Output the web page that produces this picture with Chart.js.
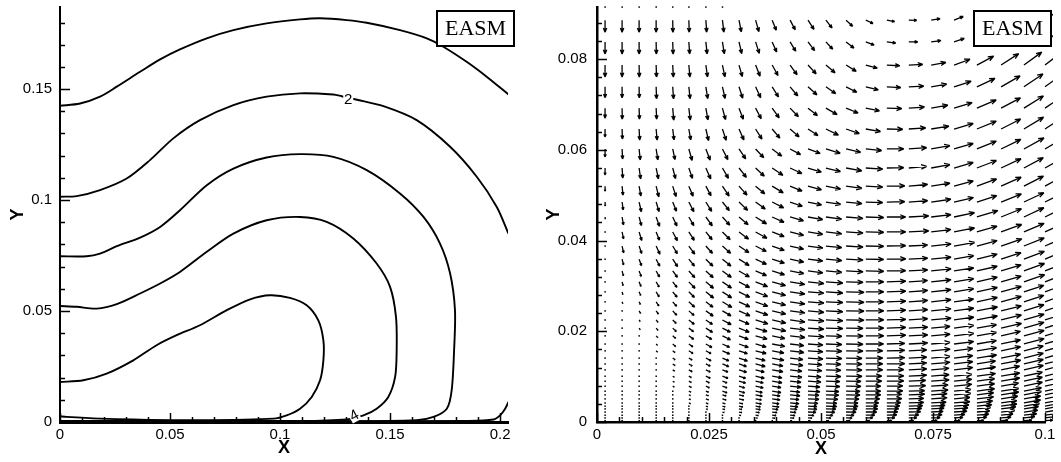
<!DOCTYPE html>
<html>
<head>
<meta charset="utf-8">
<script src="https://cdn.jsdelivr.net/npm/chart.js@4.4.1/dist/chart.umd.min.js"></script>
<style>
  html, body { margin: 0; padding: 0; background: #fff; }
  #wrap { position: relative; width: 1061px; height: 462px; overflow: hidden; }
  #leftChart { position: absolute; left: 0; top: 0; }
  #rightChart { position: absolute; left: 530px; top: 0; }
</style>
</head>
<body>
<div id="wrap">
  <canvas id="leftChart" width="530" height="462"></canvas>
  <canvas id="rightChart" width="531" height="462"></canvas>
</div>
<script>
// ─── DATA ───

// left panel: tick labels
const leftXTicks = [0, 0.05, 0.1, 0.15, 0.2];
const leftYTicks = [0, 0.05, 0.1, 0.15];

// left panel: contour lines (outermost to innermost)
const contour1X = [0, 0.0091, 0.0182, 0.0258, 0.0364, 0.0455, 0.0545, 0.0667, 0.0788, 0.0939, 0.1091, 0.1182, 0.1303, 0.1394, 0.1545, 0.1667, 0.1742, 0.1848, 0.1939, 0.2038];
const contour1Y = [0.1425, 0.1435, 0.1466, 0.1511, 0.1578, 0.1634, 0.1679, 0.1729, 0.1766, 0.1796, 0.1814, 0.1819, 0.1811, 0.1799, 0.1766, 0.1729, 0.1691, 0.1623, 0.1556, 0.1476];

const contour2X = [0, 0.0076, 0.0182, 0.0303, 0.0409, 0.0515, 0.0636, 0.0788, 0.0939, 0.1091, 0.1242, 0.128, 0.1345, 0.147, 0.1621, 0.1773, 0.1894, 0.1985, 0.2038];
const contour2Y = [0.1015, 0.1018, 0.1045, 0.1097, 0.118, 0.1278, 0.136, 0.1428, 0.1466, 0.1481, 0.1476, 0.1468, 0.1453, 0.1423, 0.136, 0.124, 0.1105, 0.0969, 0.0849];
// level 2 again, along the bottom wall
const contour2bX = [0, 0.1, 0.1848, 0.197, 0.2, 0.2023, 0.2038];
const contour2bY = [0.0003, 0.0003, 0.0005, 0.0011, 0.003, 0.006, 0.009];

const contour3X = [0, 0.0121, 0.0182, 0.0258, 0.0364, 0.0455, 0.0545, 0.0667, 0.0788, 0.0939, 0.1091, 0.1242, 0.1394, 0.1545, 0.1652, 0.1727, 0.1773, 0.1795, 0.1791, 0.178, 0.1758, 0.1697, 0.1621, 0.1242, 0];
const contour3Y = [0.0747, 0.0747, 0.0759, 0.0792, 0.0831, 0.0879, 0.0954, 0.1067, 0.1142, 0.1192, 0.1207, 0.1195, 0.1135, 0.103, 0.0924, 0.0804, 0.0669, 0.0504, 0.0323, 0.0143, 0.006, 0.0023, 0.0008, 0.0003, 0.0003];

const contour4X = [0, 0.0076, 0.0167, 0.0258, 0.0364, 0.0455, 0.0545, 0.0667, 0.0788, 0.0939, 0.1091, 0.1212, 0.1333, 0.1439, 0.15, 0.1527, 0.153, 0.1523, 0.1492, 0.1439, 0.1379, 0.1303, 0.1091, 0];
const contour4Y = [0.0523, 0.0519, 0.0511, 0.0531, 0.0579, 0.0624, 0.0676, 0.0767, 0.0849, 0.0909, 0.0924, 0.0902, 0.0827, 0.0714, 0.0609, 0.0473, 0.0323, 0.0203, 0.0113, 0.006, 0.003, 0.0012, 0.0005, 0.0005];

const contour5X = [0, 0.0106, 0.0212, 0.0333, 0.0439, 0.053, 0.0636, 0.0758, 0.0864, 0.0955, 0.1045, 0.1121, 0.1174, 0.1197, 0.1197, 0.1182, 0.1144, 0.1091, 0.103, 0.097, 0.0636, 0.0333, 0.0182, 0.003, 0];
const contour5Y = [0.018, 0.0188, 0.0218, 0.0278, 0.0346, 0.0391, 0.0436, 0.0504, 0.0553, 0.0571, 0.0559, 0.0526, 0.0458, 0.0368, 0.0278, 0.0188, 0.0113, 0.006, 0.003, 0.0015, 0.0008, 0.0011, 0.0015, 0.0023, 0.0026];

// contour level labels
const contourLabelText = ['2', '4'];
const contourLabelX = [0.131, 0.1336];
const contourLabelY = [0.1458, 0.0032];

// right panel: tick labels
const rightXTicks = [0, 0.025, 0.05, 0.075, 0.1];
const rightYTicks = [0, 0.02, 0.04, 0.06, 0.08];

// right panel: vector grid
const vecX = [0.0018, 0.0056, 0.0094, 0.0132, 0.0169, 0.0205, 0.0243, 0.0280, 0.0317, 0.0354, 0.0391, 0.0431, 0.0471, 0.0511, 0.0556, 0.0600, 0.0647, 0.0696, 0.0746, 0.0797, 0.0848, 0.0902, 0.0953, 0.1000];
const vecY = [0.0915, 0.0886, 0.0838, 0.0787, 0.0739, 0.0692, 0.0646, 0.0602, 0.0560, 0.0520, 0.0485, 0.0452, 0.0419, 0.0388, 0.0359, 0.0333, 0.0309, 0.0287, 0.0265, 0.0245, 0.0225, 0.0207, 0.0190, 0.0172, 0.0157, 0.0141, 0.0128, 0.0115, 0.0101, 0.0090, 0.0079, 0.0068, 0.0060, 0.0051, 0.0042, 0.0035, 0.0029, 0.0022, 0.0015, 0.0009, 0.0003];

// direction of each vector, degrees (0 = +x, 90 = +y), one row per vecY
const vecAngle = [
  [-90,-90,-90,-90,-90,-90,-90,-90,-90,-90,-90,-90,-90,-90,-90,-90,-90,-90,-90,-90,-90,-90,-90,-90],
  [-90,-90,-90,-90,-89,-88,-86,-83,-79,-74,-68,-62,-57,-52,-43,-25,-10,-2,10,22,27,31,34,36],
  [-90,-90,-90,-89,-88,-86,-84,-81,-77,-72,-66,-59,-53,-47,-38,-21,-7,0,8,19,27,31,34,37],
  [-90,-90,-89,-88,-87,-85,-82,-78,-74,-68,-61,-54,-47,-40,-32,-15,-3,3,10,20,28,33,36,38],
  [-90,-90,-89,-88,-86,-84,-81,-77,-72,-65,-58,-50,-42,-35,-27,-14,-3,3,10,18,25,30,34,36],
  [-90,-89,-88,-87,-85,-83,-80,-75,-69,-62,-54,-46,-38,-30,-22,-11,-2,4,10,17,23,28,32,34],
  [-90,-88,-87,-85,-83,-80,-77,-72,-66,-58,-50,-41,-33,-26,-19,-10,-1,4,9,16,22,27,31,33],
  [-90,-87,-84,-81,-78,-74,-69,-63,-56,-47,-37,-28,-20,-17,-13,-6,0,4,10,16,22,26,29,31],
  [-90,-86,-82,-78,-75,-71,-66,-60,-52,-43,-34,-25,-17,-14,-10,-4,1,5,10,16,21,25,28,30],
  [-90,-84,-80,-76,-72,-67,-62,-56,-48,-40,-31,-22,-15,-11,-8,-3,1,5,9,15,20,24,27,29],
  [-88,-82,-77,-73,-68,-63,-58,-51,-44,-36,-27,-19,-12,-9,-6,-2,1,4,8,13,18,22,25,27],
  [-85,-80,-75,-70,-65,-60,-54,-48,-40,-32,-24,-16,-10,-8,-5,-2,0,3,7,12,17,22,25,26],
  [-85,-78,-73,-68,-62,-57,-51,-45,-37,-29,-21,-14,-9,-7,-4,-1,0,3,7,11,16,20,23,25],
  [-80,-77,-71,-65,-59,-54,-48,-42,-34,-27,-20,-13,-8,-6,-4,-1,1,3,6,10,15,19,22,24],
  [-80,-76,-70,-63,-57,-51,-45,-39,-32,-25,-18,-12,-7,-5,-3,-1,1,3,6,10,14,18,21,23],
  [-78,-75,-69,-61,-54,-48,-42,-36,-30,-23,-17,-11,-7,-5,-3,-1,1,3,6,9,13,17,20,22],
  [-75,-75,-68,-60,-52,-46,-40,-34,-28,-22,-16,-10,-6,-4,-2,0,2,4,6,9,13,16,19,21],
  [-75,-75,-67,-59,-51,-45,-39,-33,-27,-21,-15,-9,-5,-4,-2,0,2,4,6,9,12,15,18,20],
  [-70,-70,-65,-57,-49,-43,-37,-31,-25,-20,-14,-9,-5,-3,-2,0,2,4,6,8,12,15,18,20],
  [-70,-65,-60,-55,-47,-41,-35,-30,-24,-19,-13,-8,-5,-3,-1,0,2,4,6,8,11,14,17,19],
  [-70,-65,-58,-52,-45,-39,-34,-28,-23,-18,-13,-8,-4,-3,-1,0,2,4,5,8,11,14,16,18],
  [-65,-60,-55,-50,-43,-37,-32,-27,-22,-17,-12,-7,-4,-2,-1,0,2,3,5,8,10,13,16,18],
  [-60,-58,-52,-47,-41,-36,-31,-26,-21,-16,-12,-7,-4,-2,-1,0,2,3,5,7,10,13,15,17],
  [-60,-55,-50,-45,-40,-35,-30,-25,-20,-16,-11,-7,-4,-2,-1,0,2,3,5,7,10,12,15,17],
  [-55,-50,-48,-43,-38,-33,-29,-24,-19,-15,-11,-7,-4,-2,-1,0,1,3,5,7,9,12,14,16],
  [-50,-48,-45,-41,-36,-32,-28,-23,-19,-15,-11,-7,-4,-2,-1,0,1,3,5,7,9,11,14,16],
  [-45,-45,-43,-40,-35,-31,-27,-23,-19,-15,-11,-7,-4,-2,-1,0,1,3,5,7,9,11,13,15],
  [-45,-42,-40,-38,-34,-30,-26,-22,-18,-14,-10,-7,-4,-2,-1,0,1,3,5,7,9,11,13,15],
  [-40,-40,-38,-36,-33,-29,-25,-21,-18,-14,-10,-6,-4,-2,-1,0,1,3,5,6,8,10,12,14],
  [-40,-38,-36,-34,-32,-28,-25,-21,-17,-13,-10,-6,-4,-2,-1,0,1,3,4,6,8,10,12,14],
  [-35,-35,-34,-33,-31,-28,-24,-20,-17,-13,-9,-6,-4,-2,-1,0,1,2,4,6,8,10,12,13],
  [-35,-34,-33,-32,-30,-27,-24,-20,-16,-12,-9,-6,-3,-2,-1,0,1,2,4,6,8,9,11,13],
  [-30,-30,-30,-30,-29,-26,-23,-19,-16,-12,-9,-6,-3,-2,-1,0,1,2,4,5,7,9,11,12],
  [-30,-30,-29,-28,-27,-25,-22,-19,-15,-12,-8,-5,-3,-2,-1,0,1,2,4,5,7,9,10,12],
  [-25,-25,-25,-25,-25,-24,-21,-18,-15,-11,-8,-5,-3,-2,-1,0,1,2,3,5,7,8,10,11],
  [-25,-25,-24,-24,-24,-23,-20,-17,-14,-11,-8,-5,-3,-2,-1,0,1,2,3,5,6,8,10,11],
  [-20,-20,-20,-20,-20,-20,-19,-16,-13,-10,-7,-5,-3,-2,-1,0,1,2,3,4,6,7,9,10],
  [-20,-20,-20,-20,-20,-19,-18,-15,-12,-10,-7,-5,-3,-2,-1,0,1,2,3,4,5,7,8,9],
  [-15,-15,-15,-15,-15,-15,-15,-13,-11,-9,-6,-4,-3,-2,-1,0,1,2,3,4,5,6,7,8],
  [-10,-10,-10,-10,-10,-10,-10,-10,-9,-8,-6,-4,-3,-2,-1,0,1,1,2,3,4,5,6,7],
  [-5,-5,-5,-5,-5,-5,-5,-5,-5,-5,-4,-3,-2,-1,0,0,0,1,1,2,2,3,3,4]
];

// magnitude of each vector (relative), one row per vecY
const vecSpeed = [
  [1,1,1,1,1,1,1,1,0,0,0,0,0,0,0,0,0,0,0,0,0,0,0,0],
  [12,12,12,12,12,12,12,12,12,12,11,11,11,10,9,8,8,8,9,10,12,14,16,18],
  [12,12,12,12,12,12,12,12,12,12,11,11,11,10,10,9,9,9,10,11,14,16,18,20],
  [12,12,12,12,12,12,12,12,12,12,12,12,12,12,12,12,13,14,15,17,19,21,22,23],
  [11,11,11,12,12,12,12,12,12,12,12,12,12,12,12,13,14,15,16,18,20,22,23,24],
  [10,11,11,11,12,12,12,12,12,12,12,12,12,13,13,14,15,16,17,19,21,22,23,24],
  [8,10,11,11,11,11,12,12,12,12,12,12,12,14,14,15,16,17,18,20,21,22,23,24],
  [8,10,11,11,11,12,12,12,12,12,12,12,13,15,15,16,17,18,19,20,21,22,23,23],
  [7,10,11,11,11,11,12,12,12,12,13,13,14,15,16,17,17,18,19,20,21,22,22,23],
  [5,9,10,11,11,11,11,12,12,12,13,13,14,15,16,17,18,19,19,20,21,22,22,23],
  [4,8,10,10,10,11,11,11,12,12,13,13,14,15,16,17,18,19,20,20,21,22,22,23],
  [2,8,9,10,10,10,11,11,12,13,13,14,15,16,17,18,19,20,20,21,22,22,22,23],
  [1.5,7,9,9,10,10,10,11,12,13,13,14,15,16,17,18,19,20,20,21,21,22,22,22],
  [1,7,8,9,9,10,10,11,12,12,13,14,15,16,17,18,19,19,20,21,21,22,22,22],
  [1,6,7,8,9,9,10,11,12,12,13,14,15,16,17,18,19,19,20,20,21,21,22,22],
  [1,5,6,7,8,9,10,11,12,12,13,14,15,16,17,18,19,19,20,20,21,21,22,22],
  [1,4,5,6,7,9,10,11,12,13,14,15,16,17,17,18,19,19,20,20,21,21,22,22],
  [1,3,4,6,7,8,10,11,12,13,14,15,16,17,18,18,19,19,20,20,21,21,21,22],
  [1,2,3,5,6,8,9,11,12,13,14,15,16,17,18,18,19,19,20,20,21,21,21,22],
  [1,1.5,3,4,6,7,9,10,12,13,14,15,16,17,18,18,19,19,20,20,21,21,21,22],
  [1,1.5,2,3,5,7,8,10,11,13,14,15,16,17,18,18,19,19,20,20,21,21,21,21],
  [1,1,2,3,5,6,8,9,11,12,14,15,16,17,17,18,19,19,19,20,20,21,21,21],
  [1,1,1.5,2.5,4,6,7,9,10,12,13,15,16,16,17,18,19,19,19,20,20,20,21,21],
  [1,1,1.5,2,4,5,7,8,10,11,13,14,15,16,17,18,18,19,19,20,20,20,21,21],
  [1,1,1,2,3,5,6,8,9,11,12,14,15,16,17,17,18,18,19,19,20,20,20,21],
  [1,1,1,1.5,3,4,6,7,9,10,12,13,15,16,16,17,18,18,19,19,20,20,20,20],
  [1,1,1,1.5,3,4,5,7,8,10,11,13,14,15,16,17,18,18,19,19,19,20,20,20],
  [1,1,1,1.5,2.5,4,5,6,8,9,11,12,14,15,16,17,17,18,18,19,19,19,20,20],
  [1,1,1,1,2,3,5,6,7,9,10,12,13,15,16,16,17,18,18,18,19,19,19,20],
  [1,1,1,1,2,3,4,5,7,8,10,11,13,14,15,16,17,17,18,18,18,19,19,19],
  [1,1,1,1,2,3,4,5,6,8,9,11,12,14,15,15,16,17,17,18,18,18,19,19],
  [1,1,1,1,1.5,2.5,3,5,6,7,9,10,12,13,14,15,16,16,17,17,18,18,18,19],
  [1,1,1,1,1.5,2,3,4,5,7,8,10,11,13,14,15,15,16,16,17,17,18,18,18],
  [1,1,1,1,1.5,2,3,4,5,6,8,9,11,12,13,14,15,15,16,16,17,17,17,18],
  [1,1,1,1,1,2,2.5,3,4,6,7,9,10,11,12,13,14,15,15,16,16,16,17,17],
  [1,1,1,1,1,1.5,2,3,4,5,7,8,9,11,12,12,13,14,14,15,15,16,16,16],
  [1,1,1,1,1,1.5,2,2.5,3,5,6,7,9,10,11,12,12,13,13,14,14,15,15,15],
  [1,1,1,1,1,1,1.5,2,3,4,5,6,8,9,10,11,11,12,12,13,13,14,14,14],
  [1,1,1,1,1,1,1,1.5,2,3,4,5,6,7,8,9,10,10,11,11,12,12,13,13],
  [1,1,1,1,1,1,1,1,1.5,2,3,4,4,5,6,7,8,8,9,9,10,10,11,11],
  [1,1,1,1,1,1,1,1,1,1,1.5,2,2.5,3,4,4,5,5,6,6,7,7,8,8]
];

// ─── STYLE ───

const SANS = "'Liberation Sans', Arial, Helvetica, sans-serif";
const SERIF = "'Liberation Serif', 'Times New Roman', serif";
const tickFont = { family: SANS, size: 15 };
const titleFont = { family: SANS, size: 18, weight: 'bold' };
const fmt = v => String(parseFloat(Number(v).toFixed(4)));

// ticks drawn inward from the axes, like the original plot
function inwardTicks(minorX, minorY) {
    return {
        id: 'inwardTicks',
        afterDraw(chart) {
            const { ctx, chartArea: a, scales: { x, y } } = chart;
            const isMajor = (scale, v) => scale.ticks.some(t => Math.abs(t.value - v) < 1e-7);
            ctx.save();
            ctx.strokeStyle = '#000';
            ctx.lineWidth = 1.5;
            const nx = Math.floor(x.max / minorX + 1e-6);
            for (let i = 0; i <= nx; i++) {
                const v = i * minorX;
                const px = Math.round(x.getPixelForValue(v)) + 0.5;
                ctx.beginPath();
                ctx.moveTo(px, a.bottom);
                ctx.lineTo(px, a.bottom - (isMajor(x, v) ? 9 : 5));
                ctx.stroke();
            }
            const ny = Math.floor(y.max / minorY + 1e-6);
            for (let i = 0; i <= ny; i++) {
                const v = i * minorY;
                const py = Math.round(y.getPixelForValue(v)) + 0.5;
                ctx.beginPath();
                ctx.moveTo(a.left, py);
                ctx.lineTo(a.left + (isMajor(y, v) ? 10 : 5), py);
                ctx.stroke();
            }
            ctx.restore();
        }
    };
}

// "EASM" box in the upper right corner
const easmBox = {
    id: 'easmBox',
    afterDraw(chart) {
        const { ctx, chartArea: a } = chart;
        const w = 77, h = 35;
        const bx = a.right + 6 - w, by = 11;
        ctx.save();
        ctx.fillStyle = '#fff';
        ctx.fillRect(bx, by, w, h);
        ctx.strokeStyle = '#000';
        ctx.lineWidth = 2;
        ctx.strokeRect(bx, by, w, h);
        ctx.fillStyle = '#000';
        ctx.font = '22px ' + SERIF;
        ctx.textAlign = 'center';
        ctx.textBaseline = 'middle';
        ctx.fillText('EASM', bx + w / 2, by + h / 2 + 1);
        ctx.restore();
    }
};

// contour level labels sitting on the lines
const contourLabels = {
    id: 'contourLabels',
    afterDatasetsDraw(chart) {
        const { ctx, scales: { x, y } } = chart;
        const rot = [0, -0.5];
        ctx.save();
        ctx.font = '15px ' + SANS;
        ctx.textAlign = 'center';
        ctx.textBaseline = 'middle';
        contourLabelText.forEach((t, i) => {
            const px = x.getPixelForValue(contourLabelX[i]);
            const py = y.getPixelForValue(contourLabelY[i]);
            ctx.save();
            ctx.translate(px, py);
            ctx.rotate(rot[i]);
            ctx.fillStyle = '#fff';
            ctx.fillRect(-5, -7, 10, 14);
            ctx.fillStyle = '#000';
            ctx.fillText(t, 0, 1);
            ctx.restore();
        });
        ctx.restore();
    }
};

// arrows at each grid point of the vector dataset
const vectorArrows = {
    id: 'vectorArrows',
    afterDatasetsDraw(chart) {
        const { ctx, chartArea: a } = chart;
        const meta = chart.getDatasetMeta(0);
        const raw = chart.data.datasets[0].data;
        ctx.save();
        ctx.beginPath();
        ctx.rect(a.left - 2, a.top - 2, a.right - a.left + 10, a.bottom - a.top + 3);
        ctx.clip();
        ctx.strokeStyle = '#000';
        ctx.fillStyle = '#000';
        ctx.lineWidth = 1.3;
        meta.data.forEach((pt, i) => {
            const s = raw[i].spd;
            if (!s) return;
            const x0 = pt.x, y0 = pt.y;
            if (s < 2) {
                ctx.fillRect(x0 - 0.7, y0 - 0.7, 1.5, 1.5);
                return;
            }
            const ang = raw[i].ang * Math.PI / 180;
            const len = s;
            const x1 = x0 + len * Math.cos(ang);
            const y1 = y0 - len * Math.sin(ang);
            const h = Math.min(6, len * 0.38);
            ctx.beginPath();
            ctx.moveTo(x0, y0);
            ctx.lineTo(x1, y1);
            for (const d of [0.38, -0.38]) {
                ctx.moveTo(x1, y1);
                ctx.lineTo(x1 - h * Math.cos(ang + d), y1 + h * Math.sin(ang + d));
            }
            ctx.stroke();
        });
        ctx.restore();
    }
};

function axisOptions(min, max, tickList, title, fitSize, isX, tickPad, titlePad, borderW) {
    return {
        type: 'linear',
        min: min,
        max: max,
        afterBuildTicks: s => { s.ticks = tickList.map(v => ({ value: v })); },
        afterFit: s => {
            if (isX) s.height = fitSize; else s.width = fitSize;
            s.paddingTop = 0; s.paddingBottom = 0; s.paddingLeft = 0; s.paddingRight = 0;
        },
        ticks: { callback: fmt, font: tickFont, color: '#000', padding: tickPad, maxRotation: 0, autoSkip: false, includeBounds: false },
        grid: { display: false, drawTicks: false },
        border: { display: true, color: '#000', width: borderW },
        title: { display: true, text: title, font: titleFont, color: '#000', padding: titlePad }
    };
}

// ─── LEFT: CONTOURS ───

const contourSets = [
    [contour1X, contour1Y], [contour2X, contour2Y], [contour2bX, contour2bY],
    [contour3X, contour3Y], [contour4X, contour4Y], [contour5X, contour5Y]
];

new Chart(document.getElementById('leftChart'), {
    type: 'scatter',
    data: {
        datasets: contourSets.map(([xs, ys]) => ({
            data: xs.map((x, i) => ({ x: x, y: ys[i] })),
            showLine: true,
            pointRadius: 0,
            borderColor: '#000',
            borderWidth: 1.9,
            tension: 0.3,
            fill: false
        }))
    },
    options: {
        responsive: false,
        animation: false,
        devicePixelRatio: 1,
        events: [],
        layout: { padding: { left: 0, top: 7, right: 22, bottom: 0 } },
        plugins: { legend: { display: false }, tooltip: { enabled: false } },
        scales: {
            x: axisOptions(0, 0.2036, leftXTicks, 'X', 40, true, 4, { top: 0, bottom: 3 }, 3),
            y: axisOptions(0, 0.187, leftYTicks, 'Y', 60, false, 8, { top: 7, bottom: 0 }, 2)
        }
    },
    plugins: [contourLabels, inwardTicks(0.01, 0.01), easmBox]
});

// ─── RIGHT: VECTORS ───

const vecPoints = [];
vecY.forEach((yv, r) => {
    vecX.forEach((xv, c) => {
        vecPoints.push({ x: xv, y: yv, ang: vecAngle[r][c], spd: vecSpeed[r][c] });
    });
});

new Chart(document.getElementById('rightChart'), {
    type: 'scatter',
    data: {
        datasets: [{ data: vecPoints, pointRadius: 0, showLine: false }]
    },
    options: {
        responsive: false,
        animation: false,
        devicePixelRatio: 1,
        events: [],
        layout: { padding: { left: 0, top: 7, right: 16, bottom: 0 } },
        plugins: { legend: { display: false }, tooltip: { enabled: false } },
        scales: {
            x: axisOptions(0, 0.1, rightXTicks, 'X', 40, true, 4, { top: 0, bottom: 2 }, 2.5),
            y: axisOptions(0, 0.0915, rightYTicks, 'Y', 67, false, 10, { top: 13, bottom: 0 }, 2.5)
        }
    },
    plugins: [vectorArrows, inwardTicks(0.005, 0.004), easmBox]
});
</script>
</body>
</html>
